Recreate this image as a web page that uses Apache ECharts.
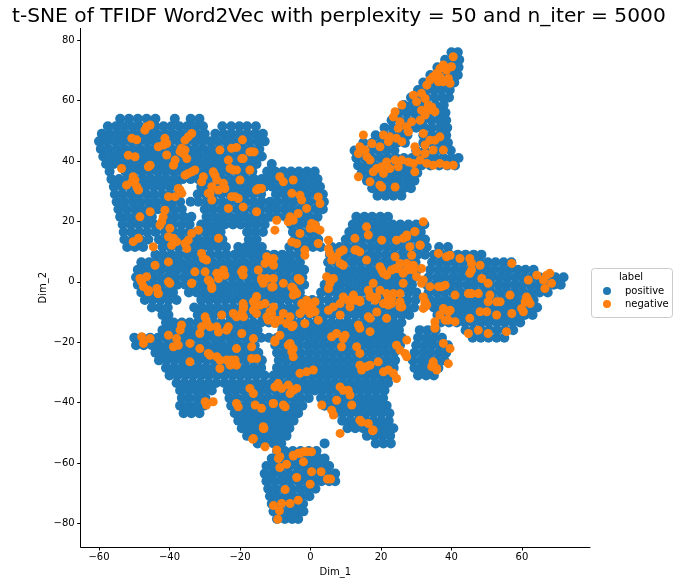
<!DOCTYPE html>
<html><head><meta charset="utf-8">
<script src="https://cdn.jsdelivr.net/npm/echarts@6/dist/echarts.min.js"></script>
<style>html,body{margin:0;padding:0;background:#fff}#c{width:676px;height:586px}</style>
</head><body><div id="c"></div>
<script>
const chartTitle = 't-SNE of TFIDF Word2Vec with perplexity = 50 and n_iter = 5000';
const xTicks = [-60, -40, -20, 0, 20, 40, 60];
const yTicks = [-80, -60, -40, -20, 0, 20, 40, 60, 80];
const seriesNames = ['positive', 'negative'];

// positive points read row by row: [y, [x, x, ...]]
const positiveRows = [
[76,[40,41.8]],
[73.5,[38.2,40.3,42.2]],
[71,[36,38,40,42]],
[68.5,[34,36,38.2,40.3,41.8]],
[66,[32,34.2,36.4,38.6,40.8]],
[63.5,[30.5,32.8,35,37.2,39.5]],
[61,[28.5,30.8,33,35.3,37.5,39.3]],
[58.5,[26.5,28.8,31,33.3,35.5,37.8]],
[56,[25,27.3,29.5,31.8,34,36.3,38.3]],
[53.5,[23,25.3,27.5,29.8,32,34.3,36.5,38.5]],
[51,[21,23.3,25.5,27.8,30,32.3,34.5,36.8,38.8]],
[48.5,[18.5,20.8,23,25.3,27.5,32,34.3,36.5,38.5]],
[46,[15,17.5,20,22.3,24.5,26.8,32,34.5,36.8,39]],
[43.5,[12.5,14.8,17,19.3,21.5,23.8,30,32.5,35,37.3,39.8]],
[41,[13,15.3,17.5,19.8,22,24.3,26.5,28.8,31,33.3,35.5,37.8,40,42]],
[38.5,[13.5,15.8,18,20.3,22.5,24.8,27,29.3,31.5,34,36.5,38.8,41]],
[36,[14.5,16.8,19,21.3,23.5,25.8,28,30.3]],
[33.5,[16,18.3,20.5,22.8,25,27.3,29.5]],
[31,[17.5,19.8,22,24.3,26.5,28.5]],
[28.5,[19,21.3,23.5,25.8]],
[54,[-54,-51.5,-49,-46.5,-44,-38.5,-34,-31.5]],
[51.5,[-57.5,-55.2,-53,-50.7,-48.5,-46.2,-44,-41.7,-39.5,-37.2,-35,-32.7,-30.5,-25,-22.5,-20.2,-18,-15.5]],
[49,[-59.2,-57,-54.7,-52.5,-50.2,-48,-45.7,-43.5,-41.2,-39,-36.7,-34.5,-32.2,-30,-27,-24.7,-22.5,-20.2,-18,-15.7,-13.5]],
[46.5,[-60,-57.8,-55.5,-53.3,-51,-48.8,-46.5,-44.3,-42,-39.8,-37.5,-35.3,-33,-30.8,-28.5,-26.3,-24,-21.8,-19.5,-17.3,-15,-13]],
[44,[-59.5,-57.3,-55,-52.8,-50.5,-48.3,-46,-43.8,-41.5,-39.3,-37,-34.8,-32.5,-30.3,-28,-25.8,-23.5,-21.3,-19,-16.8,-14.5]],
[41.5,[-58.8,-56.5,-54.3,-52,-49.8,-47.5,-45.3,-43,-40.8,-38.5,-36.3,-34,-31.8,-29.5,-27.3,-25,-22.8,-20.5,-18.3,-16,-13.8]],
[39,[-58,-55.8,-53.5,-51.3,-49,-46.8,-44.5,-42.3,-40,-37.8,-35.5,-33.3,-31,-28.8,-26.5,-24.3,-22,-19.8,-17.5,-15.3,-11]],
[36.5,[-57,-52.5,-50.3,-48,-45.8,-43.5,-41.3,-39,-36.8,-34.5,-32.3,-30,-27.8,-25.5,-23.3,-21,-18.8,-16.5,-12.3,-10,-7.8,-5.5,-3.3,-1,1.2]],
[34,[-56.5,-54.3,-52,-49.8,-47.5,-45.3,-43,-40.8,-38.5,-36.3,-34,-31.8,-29.5,-27.3,-25,-22.8,-20.5,-18.3,-16,-13.8,-11.5,-9.3,-7,-4.8,-2.5,-0.3,2]],
[31.5,[-55.8,-53.5,-51.3,-49,-46.8,-44.5,-42.3,-40,-37.8,-31,-28.8,-26.5,-24.3,-22,-19.8,-17.5,-15.3,-13,-10.8,-8.5,-6.3,-4,-1.8,0.5,2.7]],
[29,[-55.5,-53.3,-51,-48.8,-46.5,-44.3,-42,-39.8,-37.5,-32,-29.8,-27.5,-25.3,-23,-20.8,-18.5,-16.3,-14,-9.8,-7.5,-5.3,-3,-0.8,1.5,3.5]],
[26.5,[-55,-52.8,-50.5,-48.3,-46,-43.8,-41.5,-39.3,-37,-34,-31.8,-29.5,-27.3,-25,-22.8,-20.5,-18.3,-16,-13.8,-11.5,-9.3,-7,-4.8,-2.5,-0.3,2,3.8]],
[24,[-54.5,-52.3,-50,-47.8,-45.5,-43.3,-41,-38.8,-36.5,-30,-27.8,-25.5,-23.3,-21,-18.8,-16.5,-14.3,-12,-9.8,-7.5,-5.3,-3,-0.8,1.5,3.5]],
[21.5,[-54,-51.8,-49.5,-47.3,-45,-40.5,-38.3,-36,-33.8,-29.5,-27.3,-25,-22.8,-20.5,-18.3,-16,-13.8,-11.5,-9.3,-7,-4.8,-2.5,-0.3,2,13,15.3,17.5,19.8,22]],
[19,[-53.3,-51,-48.8,-46.5,-44.3,-41,-38.8,-36.5,-34.3,-31,-28.8,-26.5,-24.3,-22,-19.8,-17.5,-15.3,-13,-5.5,-3.3,-1,1.2,12,14.3,16.5,18.8,21,23.3,25.5,27.8,30,32.3]],
[16.5,[-53,-50.8,-48.5,-46.3,-44,-41.3,-39,-36.8,-34.5,-32.3,-30,-27.8,-25.5,-18,-15.8,-13.5,-5,-2.8,-0.5,1.7,11,13.3,15.5,17.8,20,22.3,24.5,26.8,29,31.3]],
[14,[-52.8,-50.5,-48.3,-46,-43,-40.8,-38.5,-36.3,-34,-31.8,-29.5,-27.3,-25,-17.5,-15.3,-4.5,-2.3,0,2.2,10,12.3,14.5,16.8,19,21.3,23.5,25.8,28,30.3,32.5]],
[11.5,[-52,-49.8,-47.5,-42,-39.8,-37.5,-35.3,-33,-30.8,-28.5,-26.3,-24,-20.5,-18.3,-16,-13.8,-6,-3.8,-1.5,0.7,2.9,6,8.3,10.5,12.8,15,17.3,19.5,21.8,24,26.3,28.5,30.8,33,36.5,39]],
[9,[-44,-41.8,-39.5,-37.3,-35,-32.8,-30.5,-28.3,-26,-23.8,-21.5,-19.3,-17,-14.8,-12.5,-10.3,-8,-5.8,-3.5,5.5,7.8,10,12.3,14.5,16.8,19,21.3,23.5,25.8,28,30.3,32.5,35,37.3,39.5,41.8,44,46.3,48.5]],
[6.5,[-48,-45.8,-43.5,-41.3,-39,-36.8,-34.5,-32.3,-30,-27.8,-25.5,-23.3,-21,-18.8,-16.5,-14.3,-12,-9.8,-7.5,-5.3,-3,5,7.3,9.5,11.8,14,16.3,18.5,20.8,23,25.3,27.5,29.8,34.5,36.8,39,41.3,43.5,45.8,48,50.3,52.5,54.8,57]],
[4,[-49,-46.8,-44.5,-42.3,-40,-37.8,-35.5,-33.3,-31,-28.8,-26.5,-24.3,-22,-19.8,-17.5,-15.3,-13,-10.8,-8.5,-6.3,-4,-1.8,5.5,7.8,10,12.3,14.5,16.8,19,21.3,23.5,25.8,28,30.3,34,36.3,38.5,40.8,43,45.3,47.5,49.8,52,54.3,56.5,58.8,61,63.3]],
[1.5,[-49.5,-47.3,-45,-42.8,-40.5,-38.3,-36,-33.8,-31.5,-29.3,-27,-24.8,-22.5,-20.3,-18,-15.8,-13.5,-11.3,-9,-6.8,-4.5,-2.3,4.8,7,9.3,11.5,13.8,16,18.3,20.5,22.8,25,27.3,29.5,33.5,35.8,38,40.3,42.5,44.8,47,49.3,51.5,53.8,56,58.3,60.5,62.8,65,67.3,69.5,71.8]],
[-1,[-49,-46.8,-44.5,-42.3,-40,-37.8,-35.5,-33.3,-31,-28.8,-26.5,-24.3,-22,-19.8,-17.5,-15.3,-13,-10.8,-8.5,-6.3,-4,-1.8,4,6.3,8.5,10.8,13,15.3,17.5,19.8,22,24.3,26.5,28.8,33,35.3,37.5,39.8,42,44.3,46.5,48.8,51,53.3,55.5,57.8,60,62.3,64.5,66.8,69,71]],
[-3.5,[-48,-45.8,-43.5,-41.3,-39,-34.5,-32.3,-30,-27.8,-25.5,-23.3,-21,-18.8,-16.5,-14.3,-12,-9.8,-7.5,-5.3,-3,3,5.3,7.5,9.8,12,14.3,16.5,18.8,21,23.3,25.5,27.8,30,33.5,35.8,38,40.3,42.5,44.8,47,49.3,51.5,53.8,56,58.3,60.5,62.8,65,67.3]],
[-6,[-47,-44.8,-42.5,-40.3,-38,-31,-28.8,-26.5,-24.3,-22,-19.8,-17.5,-15.3,-13,-10.8,-8.5,-6.3,-4,-1.8,0.5,2.7,5,7.3,9.5,11.8,14,16.3,18.5,20.8,23,25.3,27.5,29.8,34,36.3,38.5,40.8,43,45.3,47.5,49.8,52,54.3,56.5,58.8,61,63.3]],
[-8.5,[-45,-42.8,-40.5,-33,-30.8,-28.5,-26.3,-24,-21.8,-19.5,-17.3,-15,-12.8,-10.5,-8.3,-6,-3.8,-1.5,0.7,2.9,5.2,7.4,9.6,11.8,14,16.2,18.4,20.6,22.8,25,27.2,29.4,35,37.3,39.5,41.8,44,46.3,48.5,50.8,53,55.3,57.5,59.8,62,64.3]],
[-11,[-42,-40.3,-32,-29.8,-27.5,-25.3,-23,-20.8,-18.5,-16.3,-14,-11.8,-9.5,-7.3,-5,-2.8,-0.5,1.7,3.9,6.1,8.3,10.5,12.7,14.9,17.1,19.3,21.5,23.7,25.9,28,36,38.3,40.5,42.8,45,47.3,49.5,51.8,54,56.3,58.5,60.8,63]],
[-13.5,[-41,-38.8,-36.5,-34.3,-32,-29.8,-27.5,-25.3,-23,-20.8,-18.5,-16.3,-14,-11.8,-9.5,-7.3,-5,-2.8,-0.6,1.6,3.8,6,8.2,10.4,12.6,14.8,17,19.2,21.4,23.6,25.8,37,39.3,41.5,43.8,46,48.3,50.5,52.8,55,57.3,59.5]],
[-16,[-42,-39.8,-37.5,-35.3,-33,-30.8,-28.5,-26.3,-24,-21.8,-19.5,-17.3,-15,-8,-5.8,-3.5,-1.3,0.9,3.1,5.3,7.5,9.7,11.9,14.1,16.3,18.5,20.7,22.9,25.1,31,33.3,35.5,44,46.3,48.5,50.8,53,55.3,57.5]],
[-18.5,[-50,-47.8,-45.5,-43.3,-41,-38.8,-36.5,-34.3,-32,-29.8,-27.5,-25.3,-23,-20.8,-18.5,-16.3,-14,-11.8,-9.5,-7.3,-5,-2.8,-0.5,1.7,3.9,6.1,8.3,10.5,12.7,14.9,17.1,19.3,21.5,23.7,25.9,30.5,32.8,35,37.3,46,48.3,50.5,52.8,55]],
[-21,[-49.5,-47.3,-45,-42.8,-40.5,-38.3,-36,-33.8,-31.5,-29.3,-27,-24.8,-22.5,-20.3,-18,-15.8,-10,-7.8,-5.5,-3.3,-1,1.2,3.4,5.6,7.8,10,12.2,14.4,16.6,18.8,21,23.2,25.4,30,32.3,34.5,36.8,39]],
[-23.5,[-44,-41.8,-39.5,-37.3,-35,-32.8,-30.5,-28.3,-26,-23.8,-21.5,-19.3,-17,-14.8,-9.5,-7.3,-5,-2.8,-0.5,1.7,3.9,6.1,8.3,10.5,12.7,14.9,17.1,19.3,21.5,23.7,29.5,31.8,34,36.3,38.5]],
[-26,[-43,-40.8,-38.5,-36.3,-34,-31.8,-29.5,-27.3,-25,-22.8,-20.5,-18.3,-16,-13.8,-9,-6.8,-4.5,-2.3,-0.1,2.1,4.3,6.5,8.7,10.9,13.1,15.3,17.5,19.7,21.9,24,29,31.3,33.5,35.8,38]],
[-28.5,[-41,-38.8,-36.5,-34.3,-32,-29.8,-27.5,-25.3,-23,-20.8,-18.5,-16.3,-14,-9.5,-7.3,-5,-2.8,-0.6,1.6,3.8,6,8.2,10.4,12.6,14.8,17,19.2,21.4,23.6,29.5,31.8,34,36.3]],
[-31,[-40,-37.8,-35.5,-33.3,-31,-28.8,-26.5,-24.3,-22,-19.8,-17.5,-15.3,-13,-10.5,-8.3,-6,-3.8,-1.6,0.6,2.8,5,7.2,9.4,11.6,13.8,16,18.2,20.4,22.6,30.5,32.8,35]],
[-33.5,[-38,-35.8,-33.5,-31.3,-29,-26.8,-24.5,-22.3,-20,-17.8,-15.5,-13.3,-11,-8.8,-6.5,-4.3,-2.1,0.1,2.3,4.5,6.7,8.9,11.1,13.3,15.5,17.7,19.9,22]],
[-36,[-37,-34.8,-32.5,-30.3,-28,-23.5,-21.3,-19,-16.8,-14.5,-12.3,-10,-7.8,-5.5,-3.3,-1,1.2,3.4,5.6,7.8,10,12.2,14.4,16.6,18.8,21]],
[-38.5,[-36.5,-34.3,-32,-29.8,-23,-20.8,-18.5,-16.3,-14,-11.8,-9.5,-7.3,-5,-2.8,-0.5,3,5.2,7.4,9.6,11.8,14,16.2,18.4,20.6]],
[-41,[-37,-34.8,-32.5,-30.3,-22.5,-20.3,-18,-15.8,-13.5,-11.3,-9,-6.8,-4.5,-2.3,4,6.2,8.4,10.6,12.8,15,17.2,19.4,21.6]],
[-43.5,[-36,-33.8,-31.5,-21.5,-19.3,-17,-14.8,-12.5,-10.3,-8,-5.8,-3.5,7,9.2,11.4,13.6,15.8,18,20.2,22.4]],
[-46,[-20.5,-18.3,-16,-13.8,-11.5,-9.3,-7,-4.8,9,11.2,13.4,15.6,17.8,20,22.2]],
[-48.5,[-19.5,-17.3,-15,-12.8,-10.5,-8.3,-6,10.5,12.7,14.9,17.1,19.3,21.5,23.5]],
[-51,[-18,-15.8,-13.5,-11.3,-9,-6.8,16,18.2,20.4,22.6]],
[-53.5,[-15,-12.8,-10.5,-8.3,4,18.5,20.7,22.8]],
[-56,[-9.5,-7.3,-5,-2.8,-0.5,1.7]],
[-58.5,[-11,-8.8,-6.5,-4.3,-2,0.2,2.4,4]],
[-61,[-12.5,-10.3,-8,-5.8,-3.5,-1.3,0.9,3.1,5.3]],
[-63.5,[-13,-10.8,-8.5,-6.3,-4,-1.8,0.4,2.6,4.8,7]],
[-66,[-12.5,-10.3,-8,-5.8,-3.5,-1.3,0.9,3.1,5.3,7]],
[-68.5,[-12,-9.8,-7.5,-5.3,-3,-0.8,1.4]],
[-71,[-11.5,-9.3,-7,-4.8,-2.5,-0.3]],
[-73.5,[-11,-8.8,-6.5,-4.3,-2.1]],
[-76,[-10.5,-8.3,-6,-3.8,-2]],
[-78.5,[-9.5,-7.3,-5.2,-3.5]]
];

// negative points [x, y]
const negative = [
[-46.5,51.3],[-45.5,51.9],[-47,50.2],[-50.7,47.5],[-49.3,47],[-41.3,47.5],[-41.8,45.3],[-43.2,44.7],[-40.8,45.8],[-33.7,49.1],[-34.7,48],[-35.6,46.9],[-36.6,44.2],[-35.6,43.6],[-36.1,42.5],[-37,43.1],[-35.1,40.8],[-38.4,40.3],[-38.9,38.6],[-40.8,42],[-45.5,38.6],[-46,38.1],[-51.7,41.9],[-49.8,41.4],[-53.6,37.5],[-50.3,34.8],[-49.8,33.7],[-50.7,33.1],[-49.3,31.5],[-48.8,30.4],[-52.2,32],[-45.5,23.2],[-48.4,21.5],[-41.3,23.7],[-41.8,21.5],[-42.2,19.9],[-42.7,18.8],[-40.3,28.2],[-38.4,28.2],[-37,30.4],[-36.5,29.3],[-37.5,30.9],[-35.6,35.3],[-33.7,36.4],[-32.8,37],[-34.7,35.9],[-30.9,33.1],[-30.4,34.8],[-27.6,36.4],[-27.1,35.3],[-26.6,33.7],[-28,31.5],[-28.5,29.3],[-24.7,32.6],[-24.3,30.9],[-26.1,30.4],[-29,29.3],[-28,27.1],[-22.8,37.5],[-21.9,37],[-21,37],[-23.3,40.3],[-22.4,44.2],[-19.5,40.8],[-16.7,43.1],[-17.2,37],[-20,33.7],[-22.4,28.2],[-20.5,27.6],[-15.3,30.4],[-13.9,30.9],[-25.7,43.6],
[-39.9,17.7],[-40.3,14.9],[-38.9,14.4],[-38,13.3],[-39.4,12.1],[-35.6,12.7],[-35.1,11],[-34.7,13.8],[-33.7,16],[-31.8,17.1],[-30.9,9.4],[-30.4,7.7],[-29.5,7.2],[-26.1,14.4],[-50.3,13.3],[-48.8,14.4],[-44.6,11.6],
[-44.1,5.5],[-40.3,6.6],[-48.4,1.1],[-46.5,1.7],[-46,-2.8],[-43.6,-2.2],[-43.2,-3.9],[-40.3,0],[-32.8,3.3],[-33.7,-0.5],[-29.9,3.3],[-29,0.6],[-28,-1.6],[-26.6,2.8],[-26.1,1.1],[-24.7,3.9],[-24.3,2.2],[-19.5,3.3],[-19.1,2.2],[-14.8,3.9],[-13.9,0.6],[-15.3,-4.9],
[-21.4,28.2],[-19.1,24.8],[-15.3,23.2],[-23.3,24.3],[-21,44.5],[-19.3,47],[-16,43],
[-17.2,43],[-19.1,40.8],[-8.7,34.8],[-7.7,33.1],[-4.9,33.7],[-14.8,30.9],[-5.3,29.3],[-3,28.7],[-2.5,27.1],[2.2,28.1],[2.7,25.9],[-1.1,24.3],[-3.5,22.6],[-5.8,21.5],[-4.9,20.4],[-6.3,19.9],[-9.6,20.4],[-10.1,17.1],[0.3,19.3],[1.3,18.8],[1.7,17.7],[2.7,17.1],[-0.1,17.7],[-3,16],[-3.9,12.7],[-5.3,13.2],[-1.6,10.5],[-1.6,8.8],[2.2,12.7],[5.1,13.8],[5.1,11],[5.5,9.4],[6,7.2],[-12.4,8.3],[-12,7.2],[-10.5,7.7],[-12.9,6.1],[-10.5,5.5],[-19.1,3.9],[-19.5,3.3],[-13.9,1.1],[-12.4,1.1],[-10.5,1.1],[-11,-1.7],[-3.5,1.1],[-3,0.6],[-5.3,-1.7],[-4.9,-4.4],[-4.4,-3.3],[-15.3,-5],[-12.9,-7.2],[-11,-10.5],[-8.7,-12.7],[-2.5,-7.2],[-1.1,-8.3],[0.3,-8.3],[-0.1,-10.5],[1.3,-9.9],[-19.1,-7.2],[-19.1,-8.8],[-19.5,-10.5],[-4.9,-14.4],[4.6,1.7],[5.5,-0.5],[5.1,-2.2],[6.5,1.1],[7.4,8.3],[9.3,10.5],[8.4,9.9],[8.4,6.1],[9.3,5.5],[12.6,10.5],[13.1,10.5],[14,9.9],[15.9,18.2],[16.4,15.5],[12.6,14.4],[20.2,13.8],[24.4,13.8],[26.3,14.4],[27.3,15.5],[29.6,16.6],[32,19.9],[15.9,7.2],[19.7,5],[20.2,3.9],[20.7,2.8],[21.6,2.2],[23,3.9],[24,4.4],[24.9,4.4],[25.4,6.1],[27.3,6.1],[29.2,5.5],[31.5,4.4],[24,8.3],[28.2,11.6],[31.1,12.1],[17.8,-0.5],[16.4,-2.8],[16.9,-5],[18.8,-5],[19.7,-2.8],[21.6,-3.9],[22.1,-5.5],[23.5,-3.9],[25.4,-3.9],[23,-7.2],[18.8,-10],[16.9,-12.1],[25.4,-8.3],[29.2,3.9],[30.1,1.7],[31.5,-0.5],[32,-5],[32.5,-7.2],[14,-6.1],[10.7,-6.1],[11.2,-8.3],[12.2,-4.4],[8.4,-7.2],[6.5,-8.3],[5.1,-9.4],[2.2,-12.7],[-1.6,-13.8],[-3,-10.5],[-12.4,-11.6],[-12,-12.7],[-10.5,-8.3],[-16.2,-6.6],[-14.3,-7.7],[-7.7,-10.5],[-5.8,-11.6],
[-47.9,0],[-47.4,-1.6],[-46,-3.3],[-43.2,-3.9],[-39.9,-0.5],[-33.7,-0.5],[-28.5,0],[-28,-2.2],[-13.4,-0.5],[-10.6,-1.6],[-7.7,-0.5],[-4.9,-2.2],[-3,0.6],[-11.5,-9.9],[-12,-11.6],[-15.7,-8.3],[-15.3,-10.5],[-19,-8.3],[-16.2,-9.4],[-19,-11.6],[-25.2,-11],[-21.9,-10.5],[-21,-11.6],[-23.3,-14.9],[-23.8,-16],[-19.5,-17.1],[-16.2,-18.8],[-16.7,-21.5],[-29.9,-11.6],[-29.5,-13.2],[-28.5,-14.9],[-26.1,-16.6],[-26.6,-14.9],[-30.9,-14.9],[-31.4,-17.1],[-36.6,-14.3],[-37,-16],[-38,-18.8],[-37.5,-21],[-38.9,-21.5],[-34.2,-20.4],[-47.9,-18.2],[-47.4,-20.4],[-45.5,-18.8],[-40.3,-17.7],[-34.2,-26.5],[-31.4,-22.1],[-29,-23.7],[-28.5,-24.3],[-26.6,-24.8],[-25.7,-25.9],[-23.8,-25.9],[-22.4,-25.9],[-21.4,-25.9],[-25.7,-28.7],[-22.8,-27.6],[-21,-27.6],[-21,-22.1],[-16.7,-25.4],[-15.3,-25.4],[-10.1,-19.9],[-5.8,-20.4],[-5.3,-23.2],[-4.9,-24.8],[-6.8,-13.8],[-5.3,-14.9],[-9.2,-33.7],[-8.2,-35.3],[-6.3,-34.2],[-3.9,-35.3],[-5.8,-37],[-7.7,-40.8],[-10.6,-40.3],[-29.9,-39.7],[-29.5,-40.8],[-27.6,-39.7],[-21,-40.3],[-20.5,-41.4],[-17.2,-35.3],[-16.2,-37],[-15.7,-40.8],[-13.9,-41.9],[-13.4,-48.5],[-16.2,-51.9],[-12.9,-54.6],[-8.7,-57.9],[-4.9,-57.4],[-3.5,-56.8],[-1.1,-56.3],[-10.1,-13.8],[-9.6,-12.7],
[-3.9,-3.9],[-1.1,-6.1],[-0.1,-7.2],[0.8,-9.4],[-2,-9.4],[1.3,-6.6],[9.3,-5],[12.6,-6.1],[14,-6.6],[16.9,-4.4],[18.3,-6.1],[20.7,-7.2],[22.1,-7.7],[23,-5.5],[25.4,-7.2],[8.4,-11],[13.6,-14.3],[14,-15.4],[16.4,-11.6],[21.6,-12.1],[-10.1,-19.3],[-6.3,-21],[-4.9,-22.1],[-8.7,-17.7],[-1.1,-29.8],[0.8,-29.2],[-3,-30.3],[6,-18.2],[9.3,-18.8],[8.8,-21.5],[13.1,-21.5],[14,-23.7],[16.9,-16.5],[14,-27.6],[14.5,-29.2],[15.9,-28.1],[16.9,-27.6],[19.2,-26.5],[20.7,-29.8],[22.1,-29.2],[23.5,-30.3],[24.4,-32],[27.3,-19.3],[24.4,-21],[25.4,-22.6],[8.4,-34.8],[9.3,-35.9],[10.7,-35.9],[11.2,-37.5],[7.4,-39.2],[11.7,-40.8],[6,-42.5],[6.5,-44.1],[3.2,-40.8],[8.4,-50.2],[14,-45.8],[16.4,-46.9],[17.8,-49.1],[-10.5,-40.3],[-7.2,-41.4],[-13.4,-48],[-10.1,-34.8],[-4.9,-35.9],[34.8,-26.5],[35.8,-29.2],[34.4,-28.1],[32.5,-8.3],[35.3,-14.9],[7.4,-17.1],[9.8,-17.7],[-9.6,-55.7],[-2,-56.3],[0.3,-56.3],
[-13.2,-48.6],[-16.4,-52.1],[14.5,-46.4],[17.6,-49.3],[-9.1,-58.5],[-4.9,-57.7],[-3,-56.8],[-2,-59.6],[-6.8,-60.4],[-8.7,-61.5],[-7.2,-68.8],[-3.9,-64.8],[-0.1,-67],[0.3,-62.9],[3,-62.9],[4.8,-65.3],[5.7,-65.3],[-3.5,-72.3],[-5.8,-73.4],[-8.2,-73.4],[-10.5,-74.1],[-8.8,-75.8],[-9.3,-78.6],
[40.5,74.5],[37.7,71.8],[36.7,70.6],[38.6,70.1],[40,71.2],[35.8,69],[34.8,67.9],[36.7,67.9],[36.3,66.2],[33.9,66.8],[33,65.1],[39.1,67.3],[39.6,65.7],[37.7,66.2],[29.2,61.8],[31.5,62.4],[32.5,60.7],[30.1,59.6],[33.4,58.5],[31.5,56.8],[34.4,57.9],[25.9,58.5],[24,56.3],[23.5,54.6],[25.4,53],[24.9,50.8],[27.3,51.3],[27.8,49.7],[28.7,53],[31.1,53.5],[32.5,55.2],[33.4,56.8],[35.3,56.3],[20.7,48.6],[22.5,48],[24.4,47.5],[25.9,46.4],[22.1,46.4],[19.7,44.7],[17.4,45.8],[15,48.6],[14,44.7],[15.5,43.6],[16,41.4],[13.6,42.5],[29.6,44.7],[32.5,45.3],[33.9,46.9],[35.3,46.9],[36.7,48],[37.7,43.6],[34.8,43.6],[32.5,42.5],[21.6,39.7],[24,40.3],[25.9,40.3],[27.8,39.7],[29.2,39.2],[31.1,40.3],[33,39.2],[34.8,38.6],[36.7,39.2],[38.6,38.6],[40.5,38.6],[20.2,38.1],[18.8,37.5],[22.5,37.5],[24.9,38.1],[16.9,40.3],[17.8,36.4],[20.7,35.9],[13.6,34.8],[16.9,33.1],[19.7,32],[20.2,31.4],[24,31.4],[29.6,36.4],[30.1,43],[32,49.1],
[29.6,16.6],[27.3,14.9],[31.1,12.2],[28.7,8.8],[27.3,3.9],[26.3,2.8],[26.3,-0.5],[25.4,-6.6],[25.9,-8.3],[36.3,9.4],[38.6,8.3],[39.6,8.8],[42.4,7.7],[45.2,7.7],[45.7,6.1],[45.7,3.9],[48.1,5.5],[45.2,2.8],[48.6,1.1],[57.1,6.1],[32,0.6],[33.9,-1.6],[36.3,-1.6],[37.2,-1.6],[38.2,-1.1],[41,-4.4],[44.8,-3.9],[45.7,-3.9],[47.6,-3.9],[50.4,-0.5],[50.9,-4.4],[50.4,-6.6],[52.8,-6.6],[53.8,-6.6],[56.6,-4.4],[61.8,0.6],[64.2,2.2],[67,2.2],[67.9,2.8],[66.1,0.6],[68.4,-0.5],[66.5,-2.2],[61.3,-5],[60.9,-6.6],[61.8,-6.1],[59.9,-8.8],[60.4,-9.9],[57.1,-10.5],[62.3,-7.2],[32.5,-6.6],[32,-8.8],[33,-7.7],[37.7,-8.8],[39.1,-9.9],[39.6,-9.4],[36.7,-11],[38.2,-12.7],[39.1,-12.7],[41,-13.2],[35.3,-13.2],[35.3,-15.4],[45.2,-12.1],[48.1,-9.9],[50,-9.9],[52.8,-11],[55.6,-16.5],[50.4,-17.1],[47.6,-16],[44.8,-17.1],[37.7,-20.4],[39.6,-22.1],[34.8,-27.1],[39.1,-27.1],[35.8,-28.7],[27.3,-24.8],[26.8,-23.7]
];

const positive = positiveRows.flatMap(([y, xs]) => xs.map(x => [x, y]));

const font = 'DejaVu Sans';
const fmt = v => String(v).replace('-', '\u2212');
const chart = echarts.init(document.getElementById('c'), null, { renderer: 'canvas' });
chart.setOption({
  animation: false,
  backgroundColor: '#ffffff',
  title: { text: chartTitle, left: 7, top: 2,
    textStyle: { fontFamily: font, fontSize: 20.2, fontWeight: 'normal', color: '#000' } },
  grid: { left: 80.7, right: 86, top: 28.4, bottom: 39, outerBoundsMode: 'none' },
  xAxis: {
    type: 'value', min: -65.2, max: 79.3,
    axisLine: { show: true, onZero: false, lineStyle: { color: '#000', width: 1 } },
    axisTick: { show: true, length: 3.5, customValues: xTicks, lineStyle: { color: '#000' } },
    axisLabel: { customValues: xTicks, formatter: fmt, margin: 5, fontSize: 10, color: '#000', fontFamily: font },
    splitLine: { show: false },
    name: 'Dim_1', nameLocation: 'middle', nameGap: 20, nameMoveOverlap: false,
    nameTextStyle: { fontFamily: font, fontSize: 10, color: '#000' }
  },
  yAxis: {
    type: 'value', min: -87.8, max: 83.9,
    axisLine: { show: true, onZero: false, lineStyle: { color: '#000', width: 1 } },
    axisTick: { show: true, length: 3.5, customValues: yTicks, lineStyle: { color: '#000' } },
    axisLabel: { customValues: yTicks, formatter: fmt, margin: 6, fontSize: 10, color: '#000', fontFamily: font },
    splitLine: { show: false },
    name: 'Dim_2', nameLocation: 'middle', nameGap: 32, nameRotate: 90, nameMoveOverlap: false,
    nameTextStyle: { fontFamily: font, fontSize: 10, color: '#000' }
  },
  legend: {
    data: seriesNames, orient: 'vertical', left: 603, top: 286, padding: 0,
    itemWidth: 8, itemHeight: 8, itemGap: 3, icon: 'circle', selectedMode: false, z: 10,
    textStyle: { fontFamily: font, fontSize: 10, color: '#000', padding: [0, 0, 0, 9] }
  },
  graphic: [
    { type: 'rect', z: 1, shape: { x: 591.5, y: 268.5, width: 81, height: 49, r: 3 },
      style: { fill: '#ffffff', stroke: '#cccccc', lineWidth: 1 } },
    { type: 'text', z: 11, x: 631, y: 272,
      style: { text: 'label', fontFamily: font, fontSize: 10, fill: '#000', textAlign: 'center' } }
  ],
  series: [
    { name: 'positive', type: 'scatter', data: positive, symbolSize: 10, progressive: 0,
      itemStyle: { color: '#1f77b4', opacity: 1 }, emphasis: { disabled: true }, z: 2 },
    { name: 'negative', type: 'scatter', data: negative, symbolSize: 9, progressive: 0,
      itemStyle: { color: '#ff7f0e', opacity: 1 }, emphasis: { disabled: true }, z: 3 }
  ]
});
</script>
</body></html>
